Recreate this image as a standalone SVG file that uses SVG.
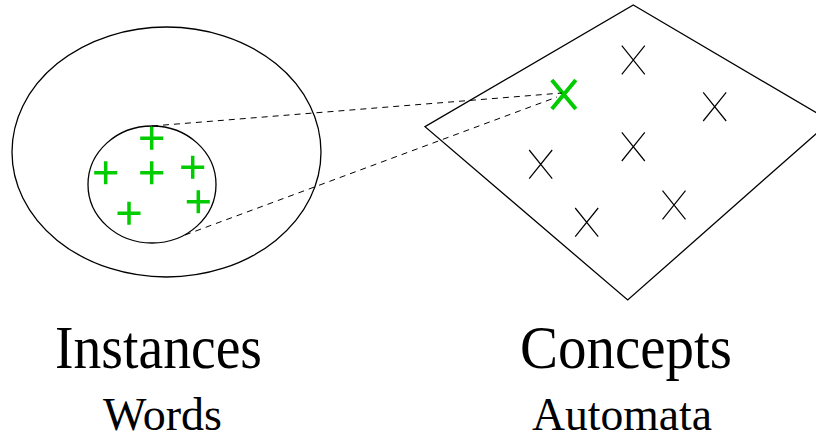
<svg xmlns="http://www.w3.org/2000/svg" width="816" height="439" viewBox="0 0 816 439">
<style>
.outline{fill:none;stroke:#000;stroke-width:1.3}
.plus{stroke:#00cc00;stroke-width:3.5;fill:none}
.gx{stroke:#00cc00;stroke-width:4;fill:none}
.bx{stroke:#000;stroke-width:1.2;fill:none}
.dash{stroke:#000;stroke-width:1;stroke-dasharray:6,5;fill:none}
text{font-family:"Liberation Serif","Times New Roman",Times,"Nimbus Roman","Noto Serif",FreeSerif,Tinos,"DejaVu Serif",serif;fill:#000}
.big{font-size:62px}
.small{font-size:46px}
</style>
<defs>
<path id="p" d="M-11.5,0H11.5M0,-11.5V11.5"/>
<path id="x" d="M-11.5,-14.3L11.5,14.3M-11.5,14.3L11.5,-14.3"/>
</defs>
<g id="instances">
<ellipse class="outline" cx="166.5" cy="152" rx="154.5" ry="125"/>
<ellipse class="outline" cx="152" cy="184.5" rx="64" ry="58.5"/>
<g class="plus">
<use href="#p" x="151.7" y="138.3"/>
<use href="#p" x="105.7" y="172.7"/>
<use href="#p" x="151.7" y="172.7"/>
<use href="#p" x="192.7" y="167.3"/>
<use href="#p" x="198.3" y="201.7"/>
<use href="#p" x="129" y="213.3"/>
</g>
<text class="big" x="55" y="368" textLength="207" lengthAdjust="spacingAndGlyphs">Instances</text>
<text class="small" x="103" y="430" textLength="119" lengthAdjust="spacingAndGlyphs">Words</text>
</g>
<g id="concepts">
<polygon class="outline" points="633.3,5 830.4,121.1 627.7,300 425,126.7"/>
<g class="bx">
<use href="#x" x="633.3" y="60"/>
<use href="#x" x="714.7" y="106.7"/>
<use href="#x" x="633.3" y="146.7"/>
<use href="#x" x="540.7" y="164.3"/>
<use href="#x" x="674" y="205"/>
<use href="#x" x="586.7" y="222.3"/>
</g>
<path class="gx" d="M551.8,80L575.8,109M551.8,109L575.8,80"/>
<text class="big" x="520" y="368" textLength="212" lengthAdjust="spacingAndGlyphs">Concepts</text>
<text class="small" x="532" y="430" textLength="180" lengthAdjust="spacingAndGlyphs">Automata</text>
</g>
<g id="connectors">
<line class="dash" x1="152" y1="126" x2="562" y2="93"/>
<line class="dash" x1="185" y1="235" x2="557" y2="97"/>
</g>
</svg>
